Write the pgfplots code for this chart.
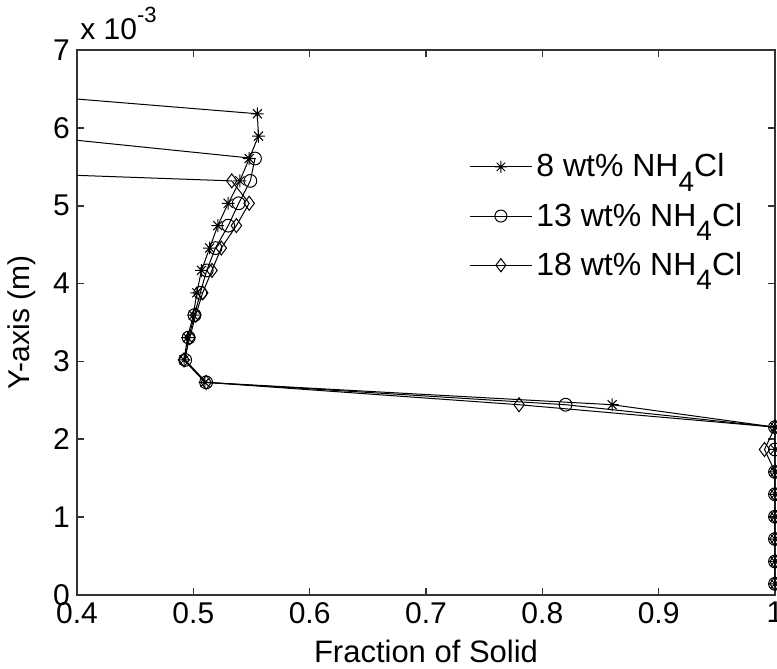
\documentclass[border=0pt]{standalone}
\usepackage{fontspec}
\setmainfont{Liberation Sans}
\usepackage{pgfplots}
\pgfplotsset{compat=1.18}

\pgfdeclareplotmark{mstar}{%
  \pgfpathmoveto{\pgfqpoint{-\pgfplotmarksize}{0pt}}\pgfpathlineto{\pgfqpoint{\pgfplotmarksize}{0pt}}%
  \pgfpathmoveto{\pgfqpoint{0pt}{-\pgfplotmarksize}}\pgfpathlineto{\pgfqpoint{0pt}{\pgfplotmarksize}}%
  \pgfpathmoveto{\pgfqpoint{-0.707\pgfplotmarksize}{-0.707\pgfplotmarksize}}\pgfpathlineto{\pgfqpoint{0.707\pgfplotmarksize}{0.707\pgfplotmarksize}}%
  \pgfpathmoveto{\pgfqpoint{-0.707\pgfplotmarksize}{0.707\pgfplotmarksize}}\pgfpathlineto{\pgfqpoint{0.707\pgfplotmarksize}{-0.707\pgfplotmarksize}}%
  \pgfusepathqstroke}

\newcommand{\sub}[1]{\raisebox{-0.85ex}{\fontsize{14}{14}\selectfont #1}}

% y in units of 1e-3 m
\pgfplotstableread{
x y
0.400 6.370
0.555 6.181
0.556 5.894
0.548 5.606
0.540 5.319
0.530 5.031
0.521 4.744
0.514 4.456
0.507 4.169
0.503 3.881
0.500 3.594
0.495 3.306
0.492 3.019
0.510 2.731
0.860 2.444
1.000 2.156
1.000 1.869
1.000 1.581
1.000 1.294
1.000 1.006
1.000 0.719
1.000 0.431
1.000 0.144
}\dataA
\pgfplotstableread{
x y
0.400 5.840
0.553 5.606
0.549 5.319
0.539 5.031
0.530 4.744
0.519 4.456
0.5115 4.169
0.506 3.881
0.501 3.594
0.496 3.306
0.493 3.019
0.511 2.731
0.820 2.444
1.000 2.156
1.000 1.869
1.000 1.581
1.000 1.294
1.000 1.006
1.000 0.719
1.000 0.431
1.000 0.144
}\dataB
\pgfplotstableread{
x y
0.400 5.390
0.533 5.319
0.548 5.031
0.537 4.744
0.524 4.456
0.516 4.169
0.508 3.881
0.502 3.594
0.497 3.306
0.492 3.019
0.511 2.731
0.780 2.444
1.000 2.156
0.991 1.869
1.000 1.581
1.000 1.294
1.000 1.006
1.000 0.719
1.000 0.431
1.000 0.144
}\dataC

\begin{document}
\begin{tikzpicture}[font=\fontsize{16}{19}\selectfont]
\begin{axis}[
  scale only axis, width=349pt, height=272.5pt,
  xmin=0.4, xmax=1, ymin=0, ymax=7,
  xtick={0.4,0.5,0.6,0.7,0.8,0.9,1},
  xticklabels={0.4,0.5,0.6,0.7,0.8,0.9,1},
  ytick={0,1,2,3,4,5,6,7},
  yticklabels={0,1,2,3,4,5,6,7},
  tick align=inside, major tick length=3.5pt,
  axis line style={line width=0.8pt, black!80},
  tick style={line width=0.8pt, black!80},
  /pgf/number format/assume math mode=true,
  tick label style={font=\fontsize{15}{18}\selectfont},
  xlabel={Fraction of Solid},
  ylabel={Y-axis (m)},
  xlabel style={at={(axis description cs:0.5,-0.104)}, anchor=center, font=\fontsize{15.5}{18}\selectfont},
  ylabel style={at={(axis description cs:-0.079,0.5)}, anchor=center, rotate=0, font=\fontsize{15}{18}\selectfont},
  legend style={draw=none, fill=none, at={(axis description cs:0.553,0.825)}, anchor=north west,
    font=\fontsize{16}{19}\selectfont, row sep=7.5pt},
  legend cell align=left,
  legend image code/.code={\draw[mark repeat=2,mark phase=2,#1] plot coordinates {(0pt,0pt) (15.5pt,0pt) (31pt,0pt)};},
  every axis plot/.append style={line width=0.5pt, black},
  mark size=3.2pt,
]
\addplot[forget plot, no marks] table[x=x,y=y] {\dataA};
\addplot[forget plot, only marks, mark=mstar, restrict x to domain=0.45:1.1] table[x=x,y=y] {\dataA};
\addplot[forget plot, no marks] table[x=x,y=y] {\dataB};
\addplot[forget plot, only marks, mark=o, mark options={fill=none}, restrict x to domain=0.45:1.1] table[x=x,y=y] {\dataB};
\addplot[forget plot, no marks] table[x=x,y=y] {\dataC};
\addplot[forget plot, only marks, mark=diamond, mark size=3.5pt, mark options={fill=none}, restrict x to domain=0.45:1.1] table[x=x,y=y] {\dataC};
\addlegendimage{black, line width=0.5pt, mark=mstar, mark size=3pt}
\addlegendentry{8 wt\% NH\sub{4}Cl}
\addlegendimage{black, line width=0.5pt, mark=o, mark size=3pt}
\addlegendentry{13 wt\% NH\sub{4}Cl}
\addlegendimage{black, line width=0.5pt, mark=diamond, mark size=3.3pt}
\addlegendentry{18 wt\% NH\sub{4}Cl}
\coordinate (SW) at (rel axis cs:0,0);
\coordinate (NE) at (rel axis cs:1,1);
\end{axis}
\node[anchor=base west, inner sep=0pt, font=\fontsize{15}{18}\selectfont] at ([shift={(1.5pt,5pt)}]SW |- NE) {x 10\raisebox{1.1ex}{\fontsize{11}{11}\selectfont -3}};
\pgfresetboundingbox
\path ([shift={(-38.5pt,-37pt)}]SW) rectangle ([shift={(1pt,25pt)}]NE);
\end{tikzpicture}
\end{document}
